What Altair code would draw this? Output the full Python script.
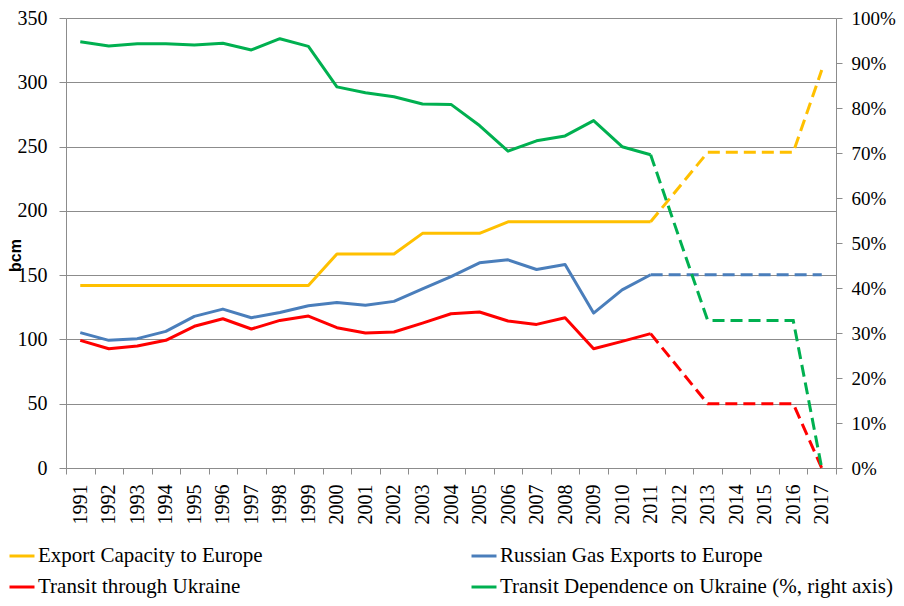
import altair as alt
import pandas as pd

# ---- data ----
years = ["1991", "1992", "1993", "1994", "1995", "1996", "1997", "1998", "1999",
         "2000", "2001", "2002", "2003", "2004", "2005", "2006", "2007", "2008",
         "2009", "2010", "2011", "2012", "2013", "2014", "2015", "2016", "2017"]
hist_years = years[:21]          # 1991-2011, solid lines
proj_years = ["2011", "2013", "2014", "2015", "2016", "2017"]  # dashed lines

S_CAP = "Export Capacity to Europe"
S_EXP = "Russian Gas Exports to Europe"
S_TRA = "Transit through Ukraine"
S_DEP = "Transit Dependence on Ukraine (%, right axis)"
# legend fills column by column: left column, then right column
series_names = [S_CAP, S_TRA, S_EXP, S_DEP]
series_colors = ["#FFC000", "#FF0000", "#4A7EBB", "#00B050"]

capacity = [142, 142, 142, 142, 142, 142, 142, 142, 142, 166.5, 166.5, 166.5,
            182.5, 182.5, 182.5, 191.5, 191.5, 191.5, 191.5, 191.5, 191.5]
capacity_proj = [191.5, 245.5, 245.5, 245.5, 245.5, 309.5]

exports = [105.3, 99.3, 100.6, 106.3, 117.9, 123.6, 116.9, 121.0, 126.2, 128.8,
           126.5, 129.6, 139.4, 148.8, 159.6, 161.9, 154.4, 158.3, 120.5, 138.6, 150.3]
exports_proj = [150.3, 150.3, 150.3, 150.3, 150.3, 150.3]

transit = [99.3, 92.8, 94.9, 99.3, 110.2, 116.1, 108.1, 114.8, 118.2, 109.1,
           105.0, 105.8, 112.7, 120.0, 121.3, 114.3, 111.7, 116.9, 92.8, 98.5, 104.5]
transit_proj = [104.5, 50, 50, 50, 50, 0]

dependence = [0.947, 0.938, 0.943, 0.943, 0.940, 0.944, 0.929, 0.954, 0.937, 0.847,
              0.834, 0.825, 0.809, 0.808, 0.761, 0.704, 0.727, 0.738, 0.772, 0.714, 0.696]
dependence_proj = [0.696, 0.328, 0.328, 0.328, 0.328, 0.0]


def frame(yrs, vals, name):
    return pd.DataFrame({"year": yrs, "value": vals, "series": name})


left_solid_df = pd.concat([frame(hist_years, capacity, S_CAP),
                           frame(hist_years, exports, S_EXP),
                           frame(hist_years, transit, S_TRA)])
left_dash_df = pd.concat([frame(proj_years, capacity_proj, S_CAP),
                          frame(proj_years, exports_proj, S_EXP),
                          frame(proj_years, transit_proj, S_TRA)])
right_solid_df = frame(hist_years, dependence, S_DEP)
right_dash_df = frame(proj_years, dependence_proj, S_DEP)

GRID = "#8c8c8c"
SERIF = "Liberation Serif"

x_enc = alt.X(
    "year:O",
    bandPosition=0.5,
    scale=alt.Scale(type="band", domain=years, paddingInner=0, paddingOuter=0),
    axis=alt.Axis(title=None, labelAngle=270, labelAlign="right", labelBaseline="middle",
                  tickBand="extent", tickSize=6, labelPadding=10, grid=False,
                  labelFont=SERIF, labelFontSize=20, labelColor="black",
                  domainColor=GRID, tickColor=GRID),
)

color_enc = alt.Color(
    "series:N",
    scale=alt.Scale(domain=series_names, range=series_colors),
    legend=alt.Legend(title=None, orient="none", legendX=-58, legendY=524, columns=2,
                      columnPadding=202, rowPadding=7, symbolType="stroke",
                      symbolSize=625, symbolStrokeWidth=3, labelFont=SERIF,
                      labelFontSize=21, labelLimit=600, labelColor="black",
                      labelOffset=2),
)

y_left = alt.Y(
    "value:Q",
    scale=alt.Scale(domain=[0, 350]),
    axis=alt.Axis(title="bcm", values=[0, 50, 100, 150, 200, 250, 300, 350], grid=True,
                  tickSize=7, labelPadding=12, labelFont=SERIF, labelFontSize=20,
                  labelColor="black", domainColor=GRID, tickColor=GRID, gridColor=GRID,
                  titleFont="Liberation Sans", titleFontWeight="bold", titleFontSize=16,
                  titleColor="black", titleX=-46, titleY=237, titleAlign="center",
                  titleBaseline="alphabetic"),
)

y_right = alt.Y(
    "value:Q",
    scale=alt.Scale(domain=[0, 1]),
    axis=alt.Axis(title=None, orient="right", format=".0%",
                  values=[0, 0.1, 0.2, 0.3, 0.4, 0.5, 0.6, 0.7, 0.8, 0.9, 1.0],
                  grid=False, tickSize=6, labelPadding=9, labelFont=SERIF,
                  labelFontSize=19, labelColor="black", domainColor=GRID, tickColor=GRID),
)

dash = [12, 6]

left_solid = alt.Chart(left_solid_df).mark_line(strokeWidth=3, strokeJoin="round").encode(
    x=x_enc, y=y_left, color=color_enc)
left_dash = alt.Chart(left_dash_df).mark_line(strokeWidth=3, strokeDash=dash).encode(
    x=x_enc, y=y_left, color=color_enc)
right_solid = alt.Chart(right_solid_df).mark_line(strokeWidth=3, strokeJoin="round").encode(
    x=x_enc, y=y_right, color=color_enc)
right_dash = alt.Chart(right_dash_df).mark_line(strokeWidth=3, strokeDash=dash).encode(
    x=x_enc, y=y_right, color=color_enc)

chart = alt.layer(
    alt.layer(left_solid, left_dash),
    alt.layer(right_solid, right_dash),
).resolve_scale(y="independent").properties(
    width=770, height=450,
    autosize=alt.AutoSizeParams(type="none"),
    padding={"left": 58, "top": 10, "right": 60, "bottom": 130},
    background="white",
).configure(font=SERIF).configure_view(stroke=None).configure_axis(
    labelFont=SERIF, labelFontSize=20, labelColor="black",
)

chart.save("out.html", embed_options={"renderer": "svg", "actions": False})
